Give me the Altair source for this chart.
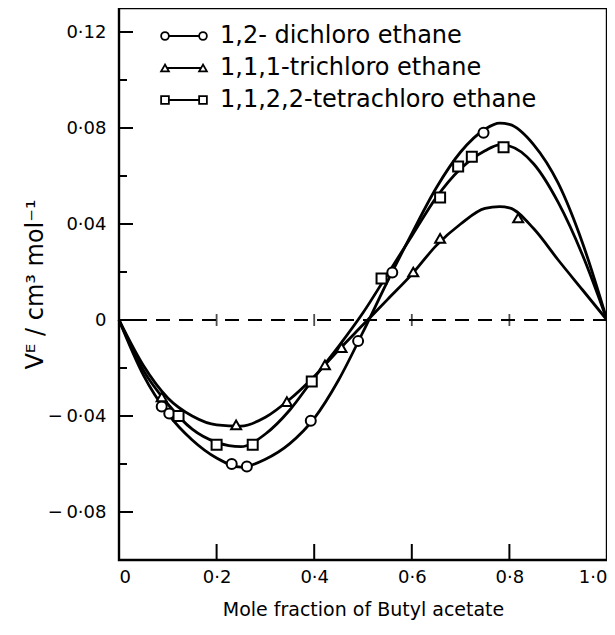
import altair as alt
import pandas as pd

# ---------------- data ----------------
series_names = ["1,2- dichloro ethane", "1,1,1-trichloro ethane", "1,1,2,2-tetrachloro ethane"]
series_shapes = ["circle", "triangle-up", "square"]

curve_x = [0.0, 0.05, 0.1, 0.15, 0.2, 0.25, 0.3, 0.35, 0.4, 0.45, 0.5, 0.55,
           0.6, 0.65, 0.7, 0.75, 0.78, 0.8, 0.85, 0.9, 0.95, 1.0]
curve_dichloro = [0, -0.023, -0.039, -0.050, -0.0575, -0.0613, -0.058, -0.0515, -0.041, -0.025,
                  -0.005, 0.016, 0.036, 0.055, 0.070, 0.0795, 0.082, 0.0815, 0.073, 0.057, 0.032, 0]
curve_trichloro = [0, -0.019, -0.0325, -0.040, -0.0437, -0.0442, -0.0405, -0.033, -0.0235, -0.0125,
                   -0.002, 0.0085, 0.019, 0.031, 0.040, 0.0465, 0.0472, 0.0467, 0.038, 0.025, 0.0125, 0]
curve_tetrachloro = [0, -0.021, -0.035, -0.0455, -0.051, -0.0528, -0.0475, -0.0375, -0.024, -0.011,
                     0.003, 0.019, 0.035, 0.051, 0.063, 0.0705, 0.073, 0.0725, 0.065, 0.049, 0.027, 0]

pts_dichloro_x = [0.0875, 0.103, 0.231, 0.262, 0.393, 0.490, 0.560, 0.747]
pts_dichloro_y = [-0.036, -0.039, -0.060, -0.061, -0.042, -0.0088, 0.0198, 0.078]
pts_trichloro_x = [0.0875, 0.240, 0.344, 0.422, 0.456, 0.603, 0.658, 0.818]
pts_trichloro_y = [-0.032, -0.0437, -0.034, -0.0187, -0.0115, 0.020, 0.034, 0.0425]
pts_tetrachloro_x = [0.122, 0.200, 0.274, 0.395, 0.538, 0.658, 0.695, 0.723, 0.788]
pts_tetrachloro_y = [-0.040, -0.052, -0.052, -0.0256, 0.0173, 0.051, 0.064, 0.068, 0.072]

x_ticks = [0, 0.2, 0.4, 0.6, 0.8, 1.0]
x_inner_ticks = [0.2, 0.4, 0.6, 0.8]
y_major_ticks = [-0.08, -0.04, 0, 0.04, 0.08, 0.12]
y_minor_ticks = [-0.06, -0.02, 0.02, 0.06, 0.10]

x_title = "Mole fraction of Butyl acetate"
y_title = "Vᴱ / cm³   mol⁻¹"

# ---------------- tables ----------------
curves = pd.concat([
    pd.DataFrame({"x": curve_x, "y": ys, "series": name})
    for ys, name in zip([curve_dichloro, curve_trichloro, curve_tetrachloro], series_names)
])
points = pd.concat([
    pd.DataFrame({"x": xs, "y": ys, "series": name})
    for xs, ys, name in zip([pts_dichloro_x, pts_trichloro_x, pts_tetrachloro_x],
                            [pts_dichloro_y, pts_trichloro_y, pts_tetrachloro_y], series_names)
])
legend_df = pd.DataFrame({"series": series_names, "idx": list(range(len(series_names)))})

W, H = 488, 552
FONT = "DejaVu Sans"
X_DOM = [0, 1.0]
Y_DOM = [-0.10, 0.13]

xs = alt.Scale(domain=X_DOM, nice=False, zero=False)
ys_ = alt.Scale(domain=Y_DOM, nice=False, zero=False)
shape_scale = alt.Scale(domain=series_names, range=series_shapes)

common_axis = dict(grid=False, ticks=False, domain=False,
                   labelFont=FONT, titleFont=FONT, labelFontSize=18,
                   labelColor="black", titleColor="black", titleFontWeight="normal")

x_axis = alt.Axis(values=x_ticks, title=x_title,
                  labelFlush=True, labelPadding=8, titlePadding=14, titleFontSize=19,
                  labelExpr="datum.value == 0 ? '0' : replace(format(datum.value, '.1f'), '.', '·')",
                  **common_axis)
y_axis = alt.Axis(values=y_major_ticks, title=y_title,
                  labelPadding=13, titlePadding=0, titleFontSize=24,
                  labelExpr="datum.value == 0 ? '0' : (datum.value < 0 ? '−\u2009' : '') + replace(format(abs(datum.value), '.2f'), '.', '·')",
                  **common_axis)

base_curves = alt.Chart(curves).mark_line(color="black", strokeWidth=2.8, interpolate="monotone").encode(
    x=alt.X("x:Q", scale=xs, axis=x_axis),
    y=alt.Y("y:Q", scale=ys_, axis=y_axis),
    detail="series:N",
)

pts = alt.Chart(points).mark_point(filled=True, fill="white", stroke="black", strokeWidth=2,
                                   size=100, opacity=1).encode(
    x=alt.X("x:Q", scale=xs),
    y=alt.Y("y:Q", scale=ys_),
    shape=alt.Shape("series:N", scale=shape_scale, legend=None),
)

zero_line = alt.Chart(pd.DataFrame({"v": [0]})).mark_rule(
    color="black", strokeWidth=1.8, strokeDash=[14, 9]).encode(y=alt.Y("v:Q", scale=ys_))

zero_cross = alt.Chart(pd.DataFrame({"x": x_inner_ticks})).mark_tick(
    orient="vertical", color="black", size=12, thickness=1.8).encode(
    x=alt.X("x:Q", scale=xs), y=alt.datum(0, scale=ys_))

bottom_ticks = alt.Chart(pd.DataFrame({"x": x_inner_ticks})).mark_rule(
    color="black", strokeWidth=2).encode(
    x=alt.X("x:Q", scale=xs), y=alt.value(H), y2=alt.value(H - 16))

ymaj = alt.Chart(pd.DataFrame({"v": y_major_ticks})).mark_rule(color="black", strokeWidth=2).encode(
    y=alt.Y("v:Q", scale=ys_), x=alt.value(0), x2=alt.value(14))
ymin = alt.Chart(pd.DataFrame({"v": y_minor_ticks})).mark_rule(color="black", strokeWidth=2).encode(
    y=alt.Y("v:Q", scale=ys_), x=alt.value(0), x2=alt.value(8))

# legend built inside the plot
leg_base = alt.Chart(legend_df).transform_calculate(py="28 + 32 * datum.idx")
leg_line = leg_base.mark_rule(color="black", strokeWidth=2.2).encode(
    y=alt.Y("py:Q", scale=None), x=alt.value(46), x2=alt.value(84))
leg_left = leg_base.mark_point(filled=True, fill="white", stroke="black", strokeWidth=1.8,
                               size=60, opacity=1).encode(
    y=alt.Y("py:Q", scale=None), x=alt.value(46),
    shape=alt.Shape("series:N", scale=shape_scale, legend=None))
leg_right = leg_base.mark_point(filled=True, fill="white", stroke="black", strokeWidth=1.8,
                                size=60, opacity=1).encode(
    y=alt.Y("py:Q", scale=None), x=alt.value(84),
    shape=alt.Shape("series:N", scale=shape_scale, legend=None))
leg_text = leg_base.mark_text(align="left", baseline="middle", fontSize=24, font=FONT,
                              color="black").encode(
    y=alt.Y("py:Q", scale=None), x=alt.value(101), text="series:N")

chart = alt.layer(
    zero_line, zero_cross, bottom_ticks, ymaj, ymin, base_curves, pts,
    leg_line, leg_left, leg_right, leg_text
).properties(
    width=W, height=H,
    autosize=alt.AutoSizeParams(type="none"),
    padding={"left": 111, "top": 0, "right": 0, "bottom": 75},
    background="white",
).configure_view(
    stroke="black", strokeWidth=2.4
)

chart.save("out.html", embed_options={"renderer": "svg", "actions": False})
